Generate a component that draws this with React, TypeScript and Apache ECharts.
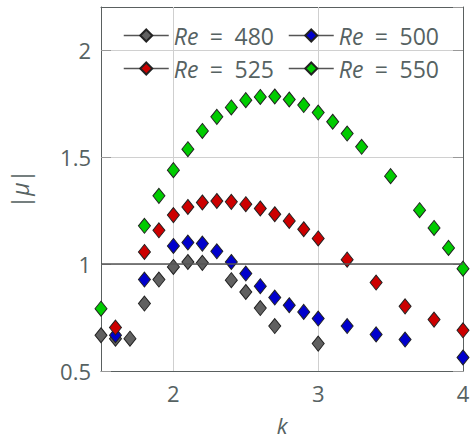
import React, { useEffect, useRef } from "react";
import * as echarts from "echarts";

const k480 = [1.5, 1.6, 1.7, 1.8, 1.9, 2.0, 2.1, 2.2, 2.4, 2.5, 2.6, 2.7, 3.0];
const v480 = [0.667, 0.651, 0.651, 0.815, 0.927, 0.986, 1.009, 1.005, 0.924, 0.869, 0.794, 0.71, 0.628];
const k500 = [1.6, 1.8, 2.0, 2.1, 2.2, 2.3, 2.4, 2.5, 2.6, 2.7, 2.8, 2.9, 3.0, 3.2, 3.4, 3.6, 4.0];
const v500 = [0.667, 0.927, 1.084, 1.1, 1.095, 1.059, 1.009, 0.955, 0.896, 0.843, 0.807, 0.776, 0.745, 0.71, 0.671, 0.647, 0.563];
const k525 = [1.6, 1.8, 1.9, 2.0, 2.1, 2.2, 2.3, 2.4, 2.5, 2.6, 2.7, 2.8, 2.9, 3.0, 3.2, 3.4, 3.6, 3.8, 4.0];
const v525 = [0.703, 1.056, 1.157, 1.228, 1.266, 1.287, 1.294, 1.29, 1.279, 1.259, 1.232, 1.201, 1.162, 1.119, 1.02, 0.913, 0.802, 0.74, 0.69];
const k550 = [1.5, 1.8, 1.9, 2.0, 2.1, 2.2, 2.3, 2.4, 2.5, 2.6, 2.7, 2.8, 2.9, 3.0, 3.1, 3.2, 3.3, 3.5, 3.7, 3.8, 3.9, 4.0];
const v550 = [0.791, 1.178, 1.318, 1.438, 1.536, 1.621, 1.687, 1.731, 1.765, 1.78, 1.782, 1.768, 1.742, 1.707, 1.664, 1.609, 1.547, 1.41, 1.251, 1.168, 1.075, 0.978];

const seriesNames = ["Re = 480", "Re = 500", "Re = 525", "Re = 550"];
const seriesColors = ["#606060", "#0000cc", "#cc0000", "#00cc00"];
const seriesK = [k480, k500, k525, k550];
const seriesV = [v480, v500, v525, v550];
const xGridTicks = [2, 3];

const FONT = "Open Sans";
const TXT = "#566262";

export default function App() {
  const ref = useRef<HTMLDivElement>(null);
  useEffect(() => {
    const chart = echarts.init(ref.current!, null, { renderer: "svg" });
    const legendPos = [
      { left: 123, top: 24 },
      { left: 288, top: 24 },
      { left: 123, top: 57 },
      { left: 288, top: 57 },
    ];
    const series: any[] = seriesNames.map((name, i) => ({
      name,
      type: "line",
      data: seriesK[i].map((k, j) => [k, seriesV[i][j]]),
      symbol: "diamond",
      symbolSize: [12, 15],
      clip: false,
      lineStyle: { width: 0, opacity: 0 },
      itemStyle: { color: seriesColors[i], borderColor: "#222", borderWidth: 1 },
      z: 3,
    }));
    series[0].markLine = {
      silent: true,
      symbol: "none",
      label: { show: false },
      lineStyle: { color: "#555", width: 1.5, type: "solid" },
      data: [{ yAxis: 1 }],
    };
    series[1].markLine = {
      silent: true,
      symbol: "none",
      label: { show: false },
      lineStyle: { color: "#cfcfcf", width: 1, type: "solid" },
      data: xGridTicks.map((x) => ({ xAxis: x })),
      z: 1,
    };
    const axisCommon = {
      axisLine: { show: true, lineStyle: { color: "#5a6060", width: 1 } },
      axisTick: { show: true, inside: true, length: 10, lineStyle: { color: "#999" } },
      axisLabel: { color: TXT, fontFamily: FONT, fontSize: 22 },
    };
    chart.setOption({
      animation: false,
      backgroundColor: "#fff",
      grid: { left: 101, right: 9, top: 7, bottom: 68, outerBoundsMode: "none", containLabel: false },
      legend: seriesNames.map((n, i) => ({
        data: [n],
        left: legendPos[i].left,
        top: legendPos[i].top,
        padding: 0,
        itemWidth: 45,
        itemHeight: 15,
        lineStyle: { color: "#555", width: 1.5, opacity: 1 },
        formatter: () => `{i|Re}\u2002=\u2002${n.split("= ")[1]}`,
        textStyle: {
          color: TXT,
          fontFamily: FONT,
          fontSize: 23,
          rich: {
            i: { fontStyle: "italic", fontFamily: FONT, fontSize: 23, color: TXT },
          },
        },
      })),
      xAxis: [
        {
          type: "value",
          min: 1.5,
          max: 4,
          interval: 0.5,
          name: "k",
          nameLocation: "middle",
          nameGap: 43,
          nameTextStyle: { color: TXT, fontFamily: FONT, fontSize: 22, fontStyle: "italic" },
          axisLine: axisCommon.axisLine,
          axisTick: { show: false },
          axisLabel: {
            ...axisCommon.axisLabel,
            margin: 11,
            formatter: (v: number) => (Number.isInteger(v) ? String(v) : ""),
          },
          splitLine: { show: false },
        },
        {
          type: "value",
          position: "top",
          min: 1.5,
          max: 4,
          interval: 0.5,
          axisLine: axisCommon.axisLine,
          axisTick: { show: false },
          axisLabel: { show: false },
          splitLine: { show: false },
        },
      ],
      yAxis: [
        {
          type: "value",
          min: 0.5,
          max: 2.2,
          interval: 0.5,
          name: "|{i|μ}|",
          nameLocation: "middle",
          nameGap: 70,
          nameRotate: 90,
          nameTextStyle: {
            color: TXT,
            fontFamily: FONT,
            fontSize: 23,
            rich: { i: { fontStyle: "italic", fontFamily: FONT, fontSize: 23, color: TXT } },
          },
          ...axisCommon,
          axisLabel: { ...axisCommon.axisLabel, margin: 10, showMaxLabel: false },
          splitLine: { show: true, lineStyle: { color: "#d0d0d0" } },
        },
        {
          type: "value",
          position: "right",
          min: 0.5,
          max: 2.2,
          interval: 0.5,
          axisLine: axisCommon.axisLine,
          axisTick: axisCommon.axisTick,
          axisLabel: { show: false },
          splitLine: { show: false },
        },
      ],
      series,
    });
    return () => chart.dispose();
  }, []);
  return <div ref={ref} style={{ width: 472, height: 439, position: "absolute", left: 0, top: 0 }} />;
}
